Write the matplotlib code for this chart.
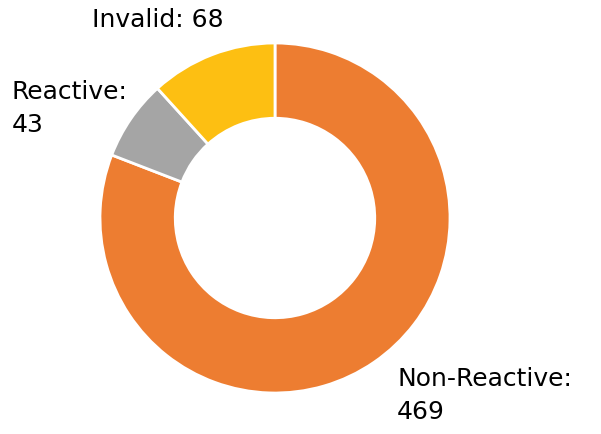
import matplotlib.pyplot as plt

labels = ["Non-Reactive", "Reactive", "Invalid"]
values = [469, 43, 68]
colors = ["#ED7D31", "#A5A5A5", "#FDBF12"]

plt.rcParams['font.family'] = ['DejaVu Sans']

fig = plt.figure(figsize=(6.01, 4.34), dpi=100)
# pie centre at about (275, 218) px, outer radius 175 px
ax = fig.add_axes([(275 - 175) / 601, (434 - 218 - 175) / 434, 350 / 601, 350 / 434])
ax.pie(values, colors=colors, startangle=90, counterclock=False,
       radius=1, wedgeprops=dict(width=0.43, edgecolor="white", linewidth=2))
ax.set_xlim(-1, 1)
ax.set_ylim(-1, 1)
ax.set_aspect("equal")
ax.axis("off")

fig.text(92 / 601, 1 - 8 / 434, f"{labels[2]}: {values[2]}", fontsize=18, va="top", ha="left")
fig.text(12 / 601, 1 - 80 / 434, f"{labels[1]}:\n{values[1]}", fontsize=18, va="top", ha="left", linespacing=1.45)
fig.text(397 / 601, 1 - 367 / 434, f"{labels[0]}:\n{values[0]}", fontsize=18, va="top", ha="left", linespacing=1.45)

fig.savefig("out.png", dpi=100)
